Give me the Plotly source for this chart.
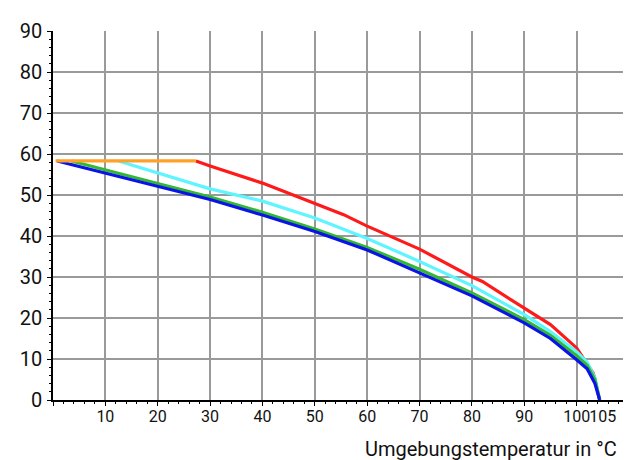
import plotly.graph_objects as go

# ---- data ----
orange_x = [0.5, 27.3]
orange_y = [58.3, 58.3]

red_x = [27.3, 30, 40, 50, 55.5, 60, 70, 80, 82, 90, 92, 95, 100, 102, 103.2, 104.4]
red_y = [58.3, 57.1, 52.9, 48.0, 45.2, 42.4, 36.8, 30.0, 28.9, 22.4, 20.8, 18.4, 12.7, 9.0, 6.5, 0]

cyan_x = [12.5, 20, 30, 40, 50, 60, 70, 80, 90, 95, 100, 102, 103.5, 104.4]
cyan_y = [58.3, 55.3, 51.5, 48.5, 44.4, 39.4, 33.8, 27.9, 20.8, 16.7, 11.8, 9.2, 5.5, 0]

green_x = [3.5, 10, 20, 30, 40, 50, 60, 70, 80, 90, 95, 100, 102, 103.5, 104.4]
green_y = [58.3, 56.2, 52.8, 49.5, 45.8, 41.7, 37.2, 31.9, 26.1, 19.6, 15.8, 10.8, 8.5, 5.0, 0]

blue_x = [0.8, 10, 20, 30, 40, 50, 60, 70, 80, 90, 95, 100, 102, 103.5, 104.4]
blue_y = [58.3, 55.3, 52.1, 48.9, 45.1, 41.1, 36.6, 31.0, 25.4, 18.8, 15.0, 9.8, 7.6, 4.0, 0]

x_tick_vals = [10, 20, 30, 40, 50, 60, 70, 80, 90, 100, 105]
x_tick_text = ["10", "20", "30", "40", "50", "60", "70", "80", "90", "100", "105"]
x_title = "Umgebungstemperatur in °C"

FONT = "Roboto, Liberation Sans, sans-serif"

fig = go.Figure()
series = [
    (red_x, red_y, "#ff1a1a"),
    (cyan_x, cyan_y, "#5ff5ff"),
    (green_x, green_y, "#33b833"),
    (blue_x, blue_y, "#0a14e6"),
    (orange_x, orange_y, "#ffa126"),
]
for xs, ys, col in series:
    fig.add_trace(go.Scatter(x=xs, y=ys, mode="lines",
                             line=dict(color=col, width=3.2),
                             showlegend=False, hoverinfo="skip"))

# invisible trace to carry the label axis
fig.add_trace(go.Scatter(x=[0, 110], y=[0, 0], xaxis="x2", mode="lines",
                         line=dict(width=0), showlegend=False, hoverinfo="skip"))

grid_col = "#9a9a9a"
fig.update_layout(
    width=631, height=460,
    margin=dict(l=45, r=10, t=23, b=68),
    paper_bgcolor="white", plot_bgcolor="white",
    font=dict(family=FONT, size=18, color="#111"),
    xaxis=dict(range=[0, 110], dtick=10, tick0=0, showgrid=True,
               gridcolor=grid_col, gridwidth=1.5,
               showline=True, linecolor="black", linewidth=1.5,
               ticks="outside", ticklen=4, tickwidth=1.2, tickcolor="black",
               showticklabels=False, zeroline=False,
               minor=dict(dtick=2, ticks="outside", ticklen=2.5,
                          tickcolor="black", showgrid=False)),
    xaxis2=dict(range=[0, 110], overlaying="x", side="bottom", anchor="y",
                tickmode="array", tickvals=x_tick_vals, ticktext=x_tick_text,
                tickangle=0, ticklabelstandoff=5,
                showgrid=False, zeroline=False, showline=False, ticks="",
                tickfont=dict(family=FONT, size=16, color="#111")),
    yaxis=dict(range=[0, 90], dtick=10, showgrid=True,
               gridcolor=grid_col, gridwidth=1.5,
               showline=True, linecolor="black", linewidth=1.5,
               ticks="outside", ticklen=4, tickwidth=1.2, tickcolor="black",
               zeroline=False, ticklabelstandoff=1,
               tickfont=dict(family=FONT, size=20, color="#111"),
               minor=dict(dtick=2, ticks="outside", ticklen=2.5,
                          tickcolor="black", showgrid=False)),
    annotations=[dict(text=x_title, xref="paper", yref="paper", x=1.0, y=-0.133,
                      xanchor="right", yanchor="middle", xshift=-10,
                      showarrow=False,
                      font=dict(family=FONT, size=20, color="#111"))],
)

fig.write_html("out.html")
